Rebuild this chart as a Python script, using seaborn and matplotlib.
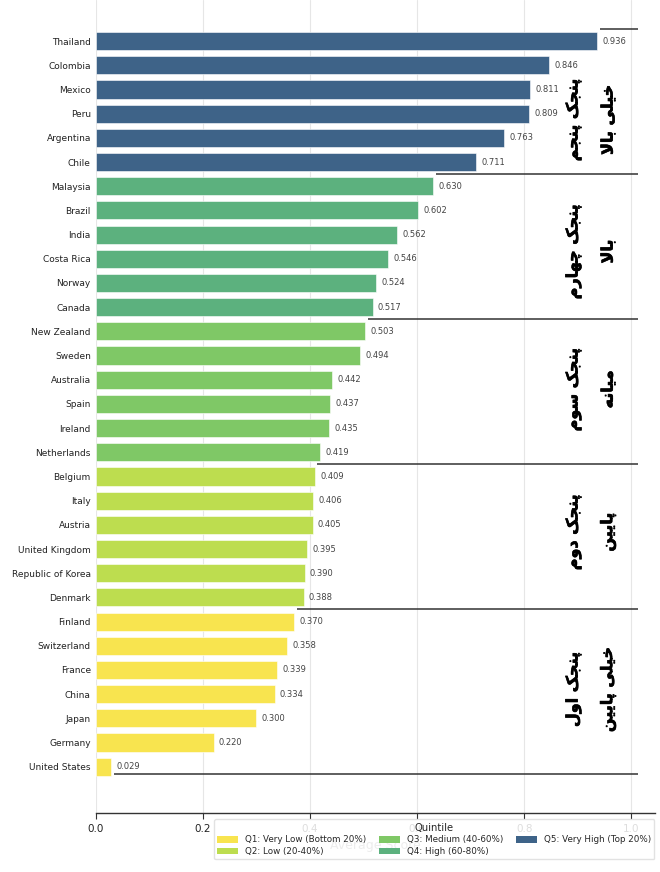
import matplotlib
matplotlib.use("Agg")
import matplotlib.pyplot as plt
import matplotlib.patheffects as pe
import seaborn as sns
import pandas as pd
from matplotlib.patches import Patch

# ---------------- data ----------------
countries = ["Thailand", "Colombia", "Mexico", "Peru", "Argentina", "Chile",
             "Malaysia", "Brazil", "India", "Costa Rica", "Norway", "Canada",
             "New Zealand", "Sweden", "Australia", "Spain", "Ireland", "Netherlands",
             "Belgium", "Italy", "Austria", "United Kingdom", "Republic of Korea", "Denmark",
             "Finland", "Switzerland", "France", "China", "Japan", "Germany", "United States"]
values = [0.936, 0.846, 0.811, 0.809, 0.763, 0.711,
          0.630, 0.602, 0.562, 0.546, 0.524, 0.517,
          0.503, 0.494, 0.442, 0.437, 0.435, 0.419,
          0.409, 0.406, 0.405, 0.395, 0.390, 0.388,
          0.370, 0.358, 0.339, 0.334, 0.300, 0.220, 0.029]
quintiles = (["Q5: Very High (Top 20%)"] * 6 + ["Q4: High (60-80%)"] * 6 +
             ["Q3: Medium (40-60%)"] * 6 + ["Q2: Low (20-40%)"] * 6 +
             ["Q1: Very Low (Bottom 20%)"] * 7)
quintile_order = ["Q1: Very Low (Bottom 20%)", "Q2: Low (20-40%)", "Q3: Medium (40-60%)",
                  "Q4: High (60-80%)", "Q5: Very High (Top 20%)"]
quintile_colors = ["#f8e44f", "#bddd4f", "#7fc866", "#5cb17e", "#3e6388"]
# Persian group labels, top group first (Q5 ... Q1)
group_line1 = ["پنجک پنجم", "پنجک چهارم", "پنجک سوم", "پنجک دوم", "پنجک اول"]
group_line2 = ["خیلی بالا", "بالا", "میانه", "پایین", "خیلی پایین"]
x_ticks = [0.0, 0.2, 0.4, 0.6, 0.8, 1.0]

# ---------------- minimal Persian shaping ----------------
FORMS = {  # isolated, final, initial, medial
    "ا": ("\uFE8D", "\uFE8E", None, None),
    "ب": ("\uFE8F", "\uFE90", "\uFE91", "\uFE92"),
    "پ": ("\uFB56", "\uFB57", "\uFB58", "\uFB59"),
    "ج": ("\uFE9D", "\uFE9E", "\uFE9F", "\uFEA0"),
    "چ": ("\uFB7A", "\uFB7B", "\uFB7C", "\uFB7D"),
    "خ": ("\uFEA5", "\uFEA6", "\uFEA7", "\uFEA8"),
    "د": ("\uFEA9", "\uFEAA", None, None),
    "ر": ("\uFEAD", "\uFEAE", None, None),
    "س": ("\uFEB1", "\uFEB2", "\uFEB3", "\uFEB4"),
    "ک": ("\uFB8E", "\uFB8F", "\uFB90", "\uFB91"),
    "ل": ("\uFEDD", "\uFEDE", "\uFEDF", "\uFEE0"),
    "م": ("\uFEE1", "\uFEE2", "\uFEE3", "\uFEE4"),
    "ن": ("\uFEE5", "\uFEE6", "\uFEE7", "\uFEE8"),
    "ه": ("\uFEE9", "\uFEEA", "\uFEEB", "\uFEEC"),
    "و": ("\uFEED", "\uFEEE", None, None),
    "ی": ("\uFBFC", "\uFBFD", "\uFBFE", "\uFBFF"),
    "لا": ("\uFEFB", "\uFEFC", None, None),
}


def shape_word(word):
    units = []
    i = 0
    while i < len(word):
        if word[i] == "ل" and i + 1 < len(word) and word[i + 1] == "ا":
            units.append("لا")
            i += 2
        else:
            units.append(word[i])
            i += 1
    out = []
    for k, u in enumerate(units):
        f = FORMS[u]
        prev_joins = k > 0 and FORMS[units[k - 1]][2] is not None
        can_join_next = f[2] is not None and k + 1 < len(units)
        if prev_joins and can_join_next:
            out.append(f[3])
        elif prev_joins:
            out.append(f[1])
        elif can_join_next:
            out.append(f[2])
        else:
            out.append(f[0])
    return "".join(out)


def persian(text):
    words = [shape_word(w) for w in text.split(" ")]
    return " ".join(w[::-1] for w in words[::-1])


# ---------------- plot ----------------
df = pd.DataFrame({"Country": countries, "Value": values, "Quintile": quintiles})
palette = dict(zip(quintile_order, quintile_colors))

sns.set_style("whitegrid")
plt.rcParams["font.family"] = ["DejaVu Sans"]
fig = plt.figure(figsize=(6.6, 8.72), dpi=100)
ax = fig.add_axes([0.145, 0.0675, 0.848, 0.9325])

sns.barplot(data=df, y="Country", x="Value", hue="Quintile", hue_order=quintile_order,
            palette=palette, dodge=False, width=0.75, orient="h", ax=ax, saturation=1,
            edgecolor="white", linewidth=0.4, legend=False)

for i, v in enumerate(values):
    ax.text(v + 0.01, i, f"{v:.3f}", va="center", ha="left", fontsize=6, color="#444444")

ax.set_xlim(0, 1.045)
ax.set_ylim(len(countries) + 0.92, -1.7)
ax.set_xticks(x_ticks)
ax.set_xticklabels([f"{t:.1f}" for t in x_ticks], fontsize=7.5, color="#222222")
ax.tick_params(axis="y", labelsize=6.5, length=0, labelcolor="#222222")
ax.tick_params(axis="x", bottom=True, length=4, width=0.8, color="#333333")
ax.set_ylabel("")
ax.set_xlabel("Average Score", fontsize=9, color="#888888", labelpad=4)
ax.grid(axis="y", visible=False)
ax.grid(axis="x", color="#e6e6e6", linewidth=0.8)
for s in ["top", "right", "left"]:
    ax.spines[s].set_visible(False)
ax.spines["bottom"].set_color("#333333")
ax.spines["bottom"].set_linewidth(1.0)

# group separators (between quintile groups)
group_sizes = [quintiles.count(q) for q in quintile_order[::-1]]
bounds = [-0.5]
acc = 0
for gs in group_sizes:
    acc += gs
    bounds.append(acc - 0.5)
bounds[-1] = acc - 0.7
for b in bounds:
    below = min(int(round(b + 0.5)), len(values) - 1)
    ax.plot([values[below] + 0.005, 1.013], [b, b], color="#333333", lw=1.1,
            solid_capstyle="butt")

# Persian group labels
offsets = [0.75, 0.2, -0.1, -0.2, -0.2]
stroke = [pe.withStroke(linewidth=0.45, foreground="black")]
start = 0
for g, gs in enumerate(group_sizes):
    yc = start + (gs - 1) / 2 + offsets[g]
    ax.text(0.892, yc, persian(group_line1[g]), rotation=90, ha="center", va="center",
            fontsize=11.5, fontweight="bold", color="black", path_effects=stroke)
    ax.text(0.957, yc, persian(group_line2[g]), rotation=90, ha="center", va="center",
            fontsize=11.5, fontweight="bold", color="black", path_effects=stroke)
    start += gs

handles = [Patch(facecolor=c, edgecolor="none") for c in quintile_colors]
leg = ax.legend(handles, quintile_order, title="Quintile", ncol=3, fontsize=6.3,
                title_fontsize=7.2, loc="upper right", bbox_to_anchor=(1.006, -0.002),
                frameon=True, framealpha=0.85, edgecolor="#dddddd", handlelength=2.4,
                handleheight=0.8, columnspacing=1.4, borderpad=0.4, labelspacing=0.3)

fig.savefig("out.png", dpi=100)
